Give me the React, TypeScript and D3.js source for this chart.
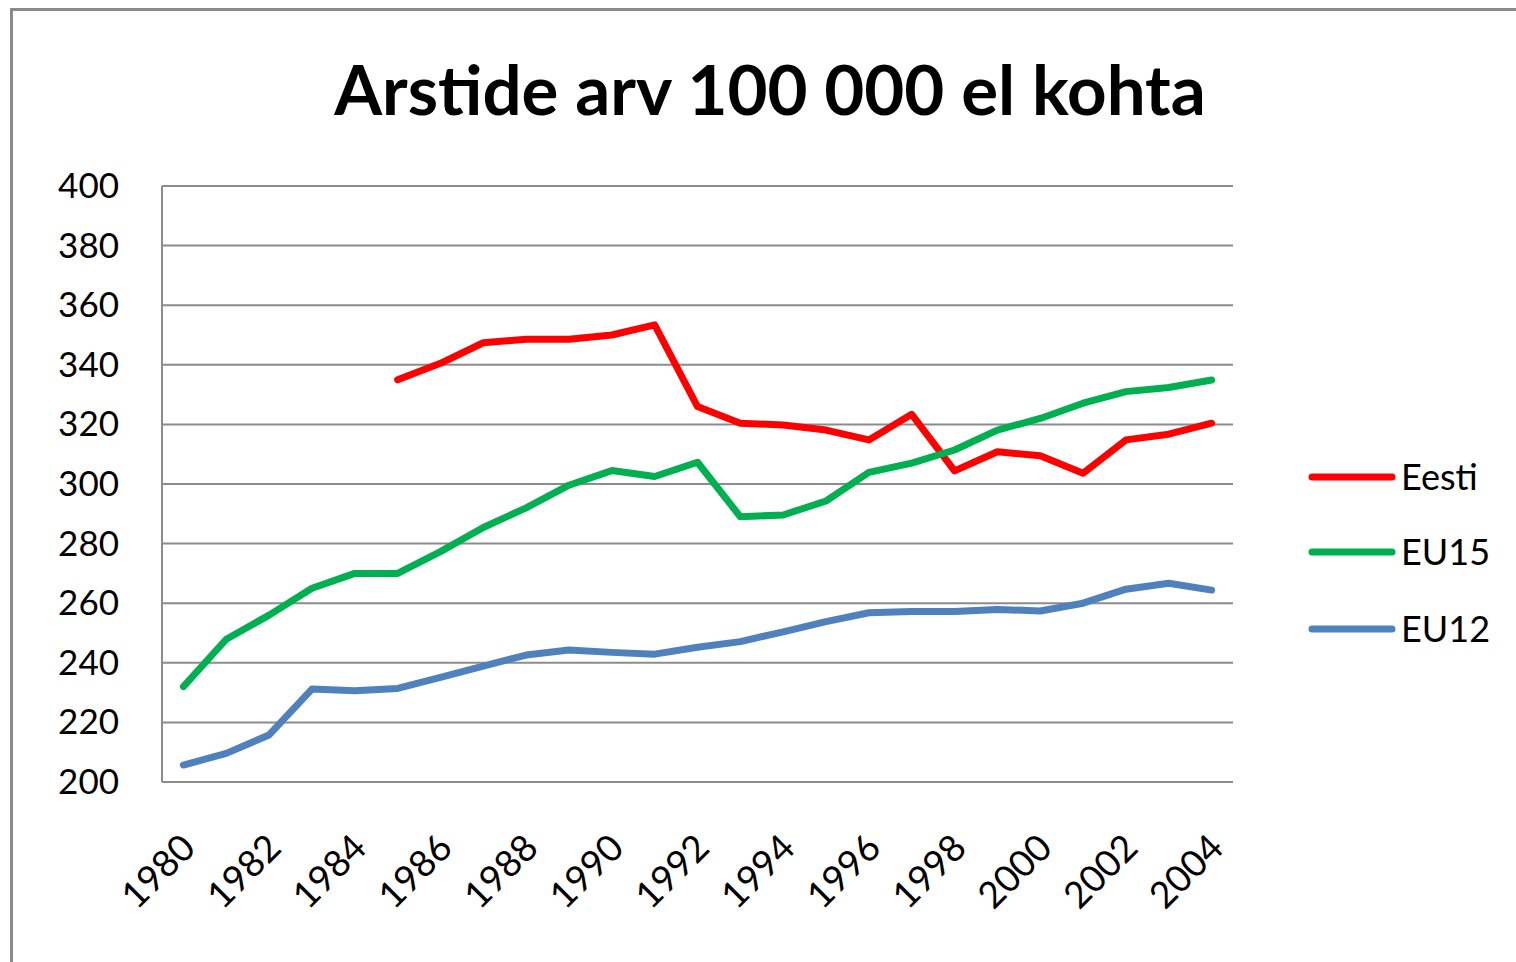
import React from 'react'
import * as d3 from 'd3'

// aastad ja andmed (loetud graafikult)
const years = d3.range(1980, 2005)
const eesti: (number | null)[] = [null, null, null, null, null, 335, 340.5, 347.4, 348.6, 348.6, 350, 353.4, 326, 320.4, 319.8, 318.1, 314.8, 323.4, 304.4, 310.8, 309.5, 303.6, 314.8, 316.7, 320.4]
const eu15 = [232, 247.9, 256, 265, 270, 270, 277.3, 285.4, 292, 299.6, 304.5, 302.5, 307.3, 289, 289.6, 294.3, 303.9, 307, 311.4, 318.1, 322, 327.1, 331, 332.4, 334.9]
const eu12 = [205.7, 209.6, 215.8, 231.2, 230.6, 231.4, 235.1, 238.9, 242.6, 244.3, 243.5, 242.9, 245.2, 247.1, 250.4, 253.8, 256.8, 257.2, 257.2, 257.9, 257.4, 260, 264.7, 266.7, 264.4]
const yTicks = d3.range(200, 401, 20)
const xTickYears = years.filter(y => y % 2 === 0)

const seriesNames = ['Eesti', 'EU15', 'EU12']
const seriesColors = ['#ff0000', '#00b050', '#4f81bd']
const seriesData = [eesti, eu15, eu12]

const font = 'Lato, "Open Sans", sans-serif'

export default function App() {
  const W = 1516, H = 962
  const left = 162, right = 1233, top = 186, bottom = 782

  const x = d3.scaleBand<number>().domain(years).range([left, right])
  const cx = (yr: number) => (x(yr) as number) + x.bandwidth() / 2
  const y = d3.scaleLinear().domain([200, 400]).range([bottom, top])

  const line = d3.line<number | null>()
    .defined(d => d != null)
    .x((d, i) => cx(years[i]))
    .y(d => y(d as number))

  return (
    <svg width={W} height={H} style={{position: 'absolute', left: 0, top: 0, background: '#fff'}}>
      <rect x={0} y={0} width={W} height={H} fill="#fff" />
      {/* raam */}
      <path d={`M11.5,${H} V9.5 H${W}`} fill="none" stroke="#8a8a8a" strokeWidth={3} />

      <text x={770} y={115} textAnchor="middle" fontFamily={font} fontWeight="bold" fontSize={69} fill="#000">
        Arstide arv 100 000 el kohta
      </text>

      {yTicks.map(t => (
        <g key={t}>
          <line x1={left} x2={right} y1={y(t)} y2={y(t)} stroke="#8c8c8c" strokeWidth={2} />
          <text x={119} y={y(t) + 12} textAnchor="end" fontFamily={font} fontSize={35} fill="#000">{t}</text>
        </g>
      ))}
      <line x1={left} x2={left} y1={top} y2={bottom} stroke="#8c8c8c" strokeWidth={2} />

      {xTickYears.map(yr => (
        <text key={yr} transform={`translate(${cx(yr) + 14},${850}) rotate(-45)`} textAnchor="end"
          fontFamily={font} fontSize={37} fill="#000">{yr}</text>
      ))}

      {seriesData.map((s, i) => (
        <path key={seriesNames[i]} d={line(s) || ''} fill="none" stroke={seriesColors[i]}
          strokeWidth={7} strokeLinejoin="round" strokeLinecap="round" />
      ))}

      {seriesNames.map((n, i) => {
        const ly = [477, 552, 629][i]
        return (
          <g key={n}>
            <line x1={1312} x2={1392} y1={ly} y2={ly} stroke={seriesColors[i]} strokeWidth={7} strokeLinecap="round" />
            <text x={1401} y={ly + 13} fontFamily={font} fontSize={36} fill="#000">{n}</text>
          </g>
        )
      })}
    </svg>
  )
}
